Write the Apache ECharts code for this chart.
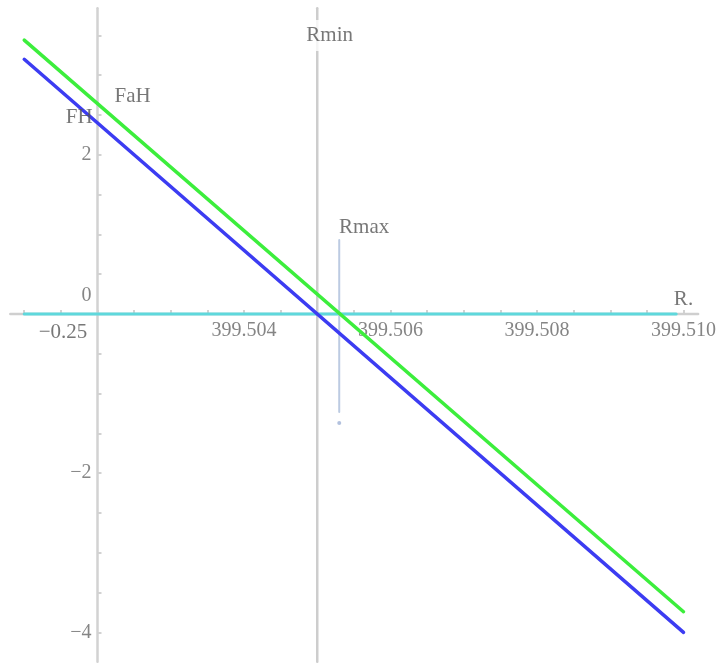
<!DOCTYPE html>
<html><head><meta charset="utf-8">
<script src="https://cdn.jsdelivr.net/npm/echarts@6/dist/echarts.min.js"></script>
<style>html,body{margin:0;padding:0;background:#fff}#c{width:718px;height:666px}</style>
</head><body><div id="c"></div>
<script>
// ---- data ----
const R_VALUES = [399.501, 399.510];          // R at both ends of the two force lines
const FAH_VALUES = [3.44, -3.74];             // FaH (green)
const FH_VALUES = [3.20, -4.00];              // FH (blue)
const ZERO_LINE_R = [399.501, 399.5099];      // cyan zero line extent
const R_MIN = 399.5050;
const R_MAX = 399.5053;
const R_MAX_BAR = [0.93, -1.23];
const R_MAX_POINT = -1.37;
const X_AXIS_SPAN = [399.50081, 399.5102];
const Y_AXIS_SPAN = [-4.37, 3.84];
const Y_AXIS_AT = 399.502;
const X_TICKS = { min: 399.500, max: 399.512, step: 0.002 };
const Y_TICKS = { min: -6, max: 4, step: 2 };
const ANNOTATIONS = ['FaH', 'FH', 'Rmin', 'Rmax', 'R.', '\u22120.25'];

// ---- styles ----
const SERIF = '"Liberation Serif","DejaVu Serif",serif';
const TICK_COLOR = '#858585';
const TEXT_COLOR = '#555555';

const chart = echarts.init(document.getElementById('c'), null, { renderer: 'canvas' });

function seg(xs, ys) { return [[xs[0], ys[0]], [xs[1], ys[1]]]; }
function lineSeries(name, data, color, width, z) {
  return { name, type: 'line', data, symbol: 'none', silent: true, z,
    lineStyle: { color, width, cap: 'round' }, clip: false };
}

const annPos = {
  'FaH': [399.50248, 2.73],
  'FH': [399.50175, 2.47],
  'Rmin': [R_MIN + 0.00017, 3.5],
  'Rmax': [399.50564, 1.09],
  'R.': [399.5100, 0.18],
  '\u22120.25': [399.50153, -0.23]
};

const tickStyle = { color: '#c4c4c4', width: 1.5 };

const option = {
  animation: false,
  backgroundColor: '#fff',
  grid: { left: -49, right: -112, top: -4.4, bottom: -125.6, containLabel: false, outerBoundsMode: 'none' },
  xAxis: {
    type: 'value', min: X_TICKS.min, max: X_TICKS.max, interval: X_TICKS.step,
    position: 'bottom', offset: -477.6,
    axisLine: { show: true, onZero: false, lineStyle: { color: 'rgba(0,0,0,0)' } },
    axisTick: { show: true, inside: true, length: 4, lineStyle: tickStyle },
    minorTick: { show: true, splitNumber: 4, length: 4, lineStyle: tickStyle },
    splitLine: { show: false },
    axisLabel: { show: true, margin: 7, color: TICK_COLOR, fontFamily: SERIF, fontSize: 20,
      showMinLabel: true, showMaxLabel: true, hideOverlap: false,
      formatter: v => Math.abs(v - Y_AXIS_AT) < 1e-7 ? '' : Number(v).toFixed(3) }
  },
  yAxis: {
    type: 'value', min: Y_TICKS.min, max: Y_TICKS.max, interval: Y_TICKS.step,
    position: 'left', offset: -146.5,
    axisLine: { show: true, onZero: false, lineStyle: { color: 'rgba(0,0,0,0)' } },
    axisTick: { show: true, inside: true, length: 4, lineStyle: tickStyle },
    minorTick: { show: true, splitNumber: 4, length: 4, lineStyle: tickStyle },
    splitLine: { show: false },
    axisLabel: { margin: 6, color: TICK_COLOR, fontFamily: SERIF, fontSize: 20, showMaxLabel: false,
      formatter: v => v === 0 ? '{z|0}' : String(v).replace('-', '\u2212'),
      rich: { z: { padding: [0, 0, 36, 0], color: TICK_COLOR, fontFamily: SERIF, fontSize: 20 } } }
  },
  series: [
    lineSeries('xaxis', seg(X_AXIS_SPAN, [0, 0]), '#cfcfcf', 2.5, 1),
    lineSeries('yaxis', seg([Y_AXIS_AT, Y_AXIS_AT], Y_AXIS_SPAN), '#d2d2d2', 2.5, 1),
    lineSeries('Rmin', seg([R_MIN, R_MIN], Y_AXIS_SPAN), '#cdcdcd', 2.5, 2),
    lineSeries('zero', seg(ZERO_LINE_R, [0, 0]), '#5fd8dc', 3, 3),
    lineSeries('Rmax', seg([R_MAX, R_MAX], R_MAX_BAR), '#bccbe2', 2, 3),
    { name: 'RmaxPoint', type: 'scatter', data: [[R_MAX, R_MAX_POINT]], symbolSize: 4,
      itemStyle: { color: '#9fb2d6' }, z: 3, silent: true },
    lineSeries('FH', seg(R_VALUES, FH_VALUES), '#3c3cf2', 3.5, 4),
    lineSeries('FaH', seg(R_VALUES, FAH_VALUES), '#3cee3c', 3.5, 5),
    { name: 'labels', type: 'scatter', symbolSize: 0, z: 6, silent: true,
      data: ANNOTATIONS.map(t => ({ name: t, value: annPos[t],
        label: t === 'Rmin' ? { backgroundColor: '#fff', padding: [5, 2] } : {} })),
      label: { show: true, position: 'inside', formatter: p => p.name, color: TEXT_COLOR,
        fontFamily: SERIF, fontSize: 21 } }
  ]
};
chart.setOption(option);
</script></body></html>
